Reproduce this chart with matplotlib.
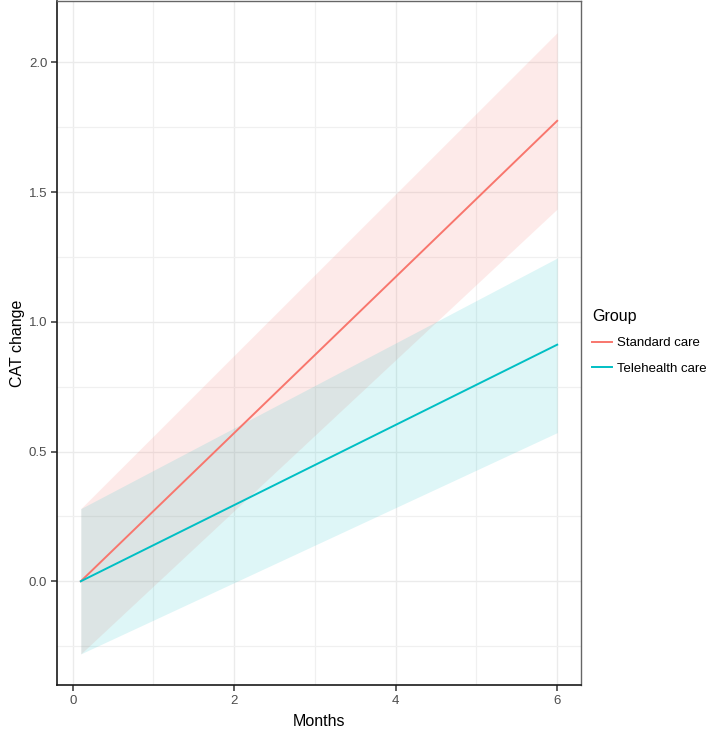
import numpy as np
import matplotlib
matplotlib.use("Agg")
import matplotlib.pyplot as plt
from matplotlib.ticker import MultipleLocator

# data (model fit with 95% band)
months = [0.1, 6.0]
std_fit = [0.0, 1.775]
std_lo = [-0.28, 1.435]
std_hi = [0.28, 2.115]
tele_fit = [0.0, 0.912]
tele_lo = [-0.28, 0.573]
tele_hi = [0.28, 1.246]
groups = ["Standard care", "Telehealth care"]
colors = ["#F8766D", "#00BFC4"]

plt.rcParams['font.family'] = ['Liberation Sans', 'DejaVu Sans']

fig = plt.figure(figsize=(7.09, 7.32), dpi=100)
ax = fig.add_axes([57/709, 47/732, 524/709, 684/732])

#Ribbons then lines
ax.fill_between(months, std_lo, std_hi, color=colors[0], alpha=0.15, lw=0, zorder=2)
ax.fill_between(months, tele_lo, tele_hi, color=colors[1], alpha=0.13, lw=0, zorder=2)
l1, = ax.plot(months, std_fit, color=colors[0], lw=1.4, label=groups[0], zorder=3)
l2, = ax.plot(months, tele_fit, color=colors[1], lw=1.4, label=groups[1], zorder=3)

ax.set_xlim(-0.195, 6.295)
ax.set_ylim(-0.40, 2.237)
ax.xaxis.set_major_locator(MultipleLocator(2))
ax.xaxis.set_minor_locator(MultipleLocator(1))
ax.yaxis.set_major_locator(MultipleLocator(0.5))
ax.yaxis.set_minor_locator(MultipleLocator(0.25))
ax.yaxis.set_major_formatter(matplotlib.ticker.FormatStrFormatter('%.1f'))
ax.grid(True, which='major', color='#EBEBEB', lw=1.0, zorder=0)
ax.grid(True, which='minor', color='#F0F0F0', lw=0.9, zorder=0)
ax.set_axisbelow(True)

for s in ['top', 'right']:
    ax.spines[s].set_color('#666666')
    ax.spines[s].set_linewidth(1.0)
for s in ['left', 'bottom']:
    ax.spines[s].set_color('#1a1a1a')
    ax.spines[s].set_linewidth(1.2)

ax.tick_params(which='major', length=4, width=1.1, color='#333333',
               labelsize=9.5, labelcolor='#4D4D4D', pad=3)
ax.tick_params(which='minor', length=0)

ax.set_xlabel('Months', fontsize=11.5, color='black', labelpad=5)
ax.set_ylabel('CAT change', fontsize=11.5, color='black', labelpad=3)

leg = fig.legend(handles=[l1, l2], title='Group', loc='center left',
                 bbox_to_anchor=(592/709, 1 - 342/732), frameon=False,
                 fontsize=9.5, title_fontsize=11.5, handlelength=1.5,
                 handletextpad=0.4, labelspacing=1.0, borderpad=0,
                 borderaxespad=0, alignment='left')

plt.savefig('out.png', dpi=100)
